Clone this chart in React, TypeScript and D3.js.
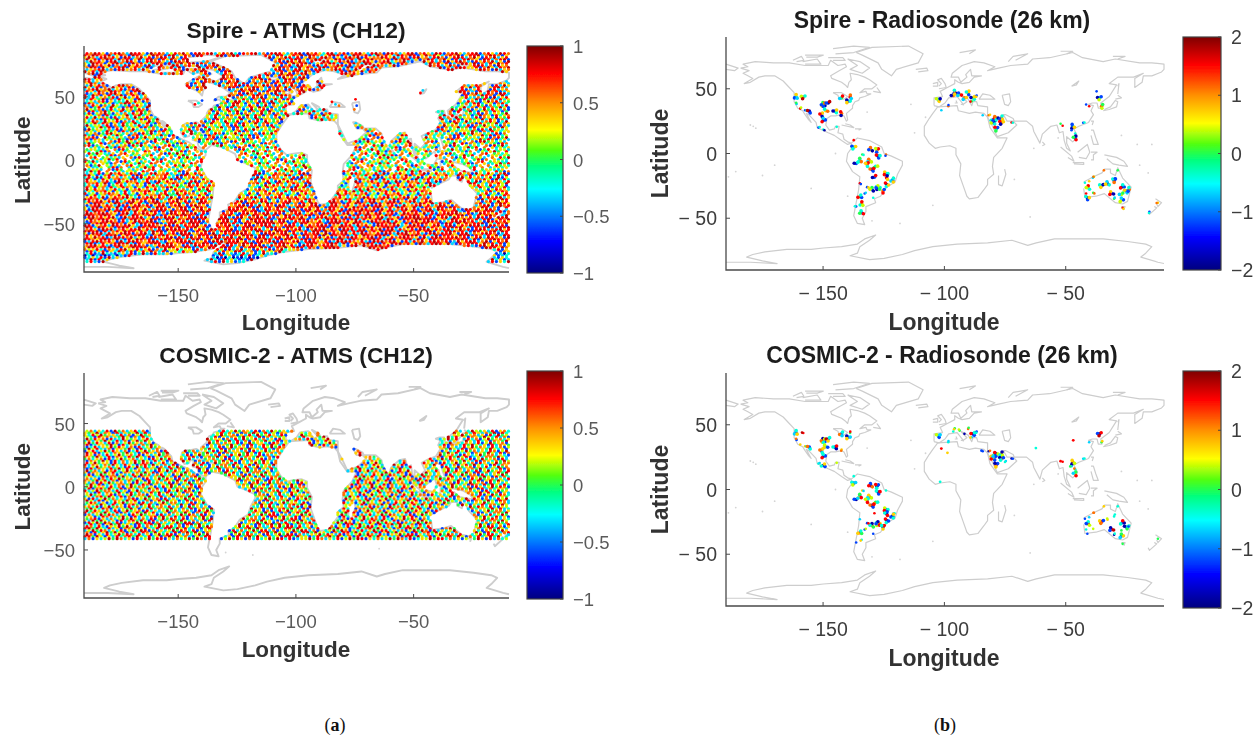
import React from "react";
import * as d3 from "d3";

// NOTE: the ATMS grid digits below are hand-estimated per latitude band from the picture
// (colour mix and white gaps); individual dots cannot be recovered exactly. . = empty cell.
const spireAtmsRows = [
"8798617897 2988619787 2587961897 8926879318 7892718986 2789197863 8927817896 2897198726 8917862981 7896278917 8629878978",
"7986928718 9672897168 9827961879 2689718697 2897861982 7968179829 6187928971 8692786198 7289167982 8169728971 6289791867",
"8971689278 1986972817 9836879127 9861789367 9218796827 1968972186 8792619878 1297861892 7986128978 6219879618 2798617982",
"6898271967 8928619786 9172896871 9268719827 8692178961 8279681927 8961782986 7192867981 9278619872 6918972861 9782697186",
"7862987196 8792869178 2698717962 8917289671 8926798172 9861782967 9182769881 7928961872 6987192678 9812678927 1896782961",
"8917268978 6192887196 2879618729 7168927986 1782969718 2867918279 6872198769 1827968172 9681792867 1982769871 2968178962",
"2789617286 9817962878 1692789168 7298617926 8197826971 8926781967 2891768921 7968127896 1827968719 2687981762 8971926878",
"7961828796 1278968172 9867219786 9172869718 2796871926 7819628971 8267917826 9817268971 2689781962 7892618796 1287968172",
"6871297863 9817268796 1829678172 9687126897 6218978261 9786812697 8192678918 2769871826 9718627986 1782968719 2687918276",
"7926817896 2187968127 8961782697 8126978916 2879618279 6817928671 9826178968 1279681728 9671826978 1268971826 7981627896",
"8167928618 7926178982 6179862817 9628719826 7981268718 9627861972 8617928761 8296178927 6819728671 9268178926 8719627861",
"5782936817 4628791563 8271946827 1596382748 1962857314 8726153984 2761958327 4819268375 1928367481 5926837148 6279381456",
"6287315978 2641879352 7816243958 6172839471 6825391748 2615983746 1829375618 4962871356 2897316452 7819264387 1562983741",
"3826147958 6273815946 2718365942 8157293648 7135926841 7362815947 2861739524 1786293546 1872394657 2816439752 8613927548",
"7152836497 2816357941 6827513946 8172439658 1726395847 2691873546 7812639457 1826735948 2716394852 7163829547 1283695748",
"2763815794 1627385946 7816239547 2861739546 2817635947 1728639458 2617839456 7162835947 8172639485 1628739564 2817365498",
"6281739456 2716835947 1862735946 8127365948 2716839547 6182739456 2817639548 7162839574 1826739458 6271839546 7182639547",
"1726839574 6218739456 2786139547 1628739568 1728365947 2816739456 7128639548 2617839547 1826739546 8172639547 2618739546",
"5362748156 3627184953 6271835947 2653817496 3718264953 6173825946 3271846957 6238174956 3172846593 5628173946 3827146597",
"3625817469 5362718456 3.27186453 6537182946 3625871946 5372816493 6257318465 3682714956 5261738496 3625714865 3.71846529",
"6352817.46 3625714896 5362718493 6253718.94 5362871469 3652718496 5.62378146 3625781496 5362871.49 3625714863 6253718496",
"3526.71846 5362178496 3652.71849 5263781496 3526718.46 5263178496 3526781.94 6352718496 5326.71849 3652781496 5263718.46",
"5263718.49 3562.78146 3625718.94 5362.71849 6352781.46 5326.78149 3652.71849 5263781.46 3526.71894 6352.78146 3562.71849",
"3652.7184. 5263.71849 3526.78146 .362571849 5263.78146 3652.7.849 5326.71846 3.62578149 5263.71846 3526.7.849 6352.78146",
"5326.7184. 3652.78.46 5263.7184. 3526.78.49 6352.7146. 3562.78.49 5263.7148. 3652.7.846 5326.7184. 3526.78.49 5362.7146.",
"3562.7.849 5326.78.46 .652.71849 5263.7.846 3526.78.49 6352.7.48. 5326.7184. .652.78.49 5263.7.846 3526.7184. 6352.78.46",
"3652.7184. 5263.7.849 3526.78.46 5362.7148. 3652.7.849 5263.78.46 3526.7184. 6352.7.849 5326.78.46 3652.7148. 5263.7.849",
"5263.78.49 3526.7146. 6352.7.849 5326.7184. 3652.78.46 5263.7.849 3526.7148. 6352.78.46 5326.7.849 3652.7184. 5263.78.46",
"3526.7184. 6352.78.49 5326.7.846 3652.7149. 5263.78.46 3526.7.849 6352.7184. 5326.78.46 3652.7.849 5263.7148. 3526.78.46",
"6352.7.849 5362.7184. 3652.78.46 5263.7.849 3526.7148. 6352.78.46 5326.7.849 3652.7184. 5263.78.46 3526.7.849 6352.7148.",
"7362857196 3862791584 7263815978 6387152896 7826319587 6372859178 2678913587 7362891578 6287315987 3768291578 6382791586",
"6783291578 7268315987 6738291587 7362819578 6287391586 7638291578 2786391587 6372819586 7268391578 6738291586 7263819587",
"7826391578 6278391587 7368291586 2768391578 7638291586 6278319587 7368219586 7263891578 6783291586 7268319587 6378291586",
"6372857146 8362751584 7263845978 6387152876 7826349587 6372859178 3678513587 7362851578 6287345987 3768251578 6382751586",
"7683451578 7268345987 6738251587 7362849578 6287351586 7638251578 3786351587 6372849586 7268351578 6738251586 7263849587",
"7826351578 6278351587 7368251586 3768351578 7638251586 6278349587 7368249586 7263851578 6783251586 7268349587 6378251586",
"8672517863 7852647986 3789647896 8371968789 6378971687 8926378968 7391687896 3178968729 6178926879 8617389678 9261789687",
"7896178396 8972638789 6819378968 1789367896 8172986789 6378916879 8361789678 3968178971 3869178962 7891678926 8971628796",
"8976178928 6789182968 7198267896 8917289678 6278918967 8129678968 2798617896 8278916978 6892178968 7291868978 1689278961",
"9878196827 8968178929 8768219878 6987182898 7619878928 1897869278 9861789287 9687182988 7968129878 6298718968 2798681987",
"8987618928 7986827198 6978928168 9878218968 7892981678 9268719878 2896187968 9278169878 6928178989 7681298768 9278168987",
"9788168929 8768298187 9892687189 7868921978 8926187989 2768198978 6892189687 9828176898 7961288978 6198287896 8927681989",
"8968912878 9768218987 8698219878 9286178968 9871268989 7826198878 6928918768 9871826987 8912678968 2989178768 9281687989",
"9878126989 8167829878 9621898768 9182878968 1987892868 9178982678 9821687898 1769882978 6198878926 8981768928 9168798921",
"8968728198 9878168929 8768912878 9826198687 8921798968 7198828968 7918928768 1989687892 6978189827 8968129878 6198927868",
"9187896829 8768198298 9678218978 8961892768 9871289878 6198928768 9817892968 2781989678 8192687989 8726198978 9682187896",
"8978168929 8761982898 6978129887 9268198768 9182897868 1987892968 7198278968 9821878968 1297898678 9182687898 7619289878",
"8968218978 9187689289 8768129898 7682198978 9618287968 9878129689 8279168798 9681289878 6192898768 9821678989 2768198978",
"9878126889 8961782898 6978218969 8716289878 9682189768 9871268989 7618298878 9681827968 8912878968 2198967889 7261898978",
"3561827968 5182793618 6281793567 1826397581 2683917568 2617839568 1723895618 2368175938 1628397568 3176289568 2681739568",
"3216381293 2136281392 1832613928 2316382916 2138261392 3128263912 2631839216 3821623918 1263891263 1203812031 0120301203",
"2316283912 1362813926 2136281392 3126381926 1326381926 1382163912 2136381926 1236281930 1201301021 0102010301 0201030120",
"3251361283 1632816392 2613821936 1236381926 2136281936 1326281936 1236381926 2631281936 1302010203 0102030102 0103020103",
];
// How far each typed Spire row is slid along the grid (hand-entered, one per row)
const spireRowOffsets = [0,37,71,14,93,52,8,66,29,105,43,81,17,59,96,3,74,31,88,46,12,63,99,25,78,6,54,87,35,69,21,92,48,1,76,33,58,15,84,41,107,27,65,9,98,50,19,73,38,86,4,61,23];

const cosmicAtmsRows = [
"5726381947 2683715946 6218375946 7162835947 6281739546 2716359486 7152836947 1627385946 2718635947 6172839546 2816739546",
"7263815947 6183729546 3718265946 7261839458 1726385946 6382715946 2768135948 6172835946 7162839458 6281735946 2718365948",
"6283715946 7361825948 6718239546 2683715948 7261835946 6172839458 3726185946 7281635949 6172835946 2736185946 7163825948",
"7162835947 2763815946 6318725946 7281635948 2671835946 7326185947 6281735946 3762815946 7136825948 6281735946 7261835946",
"3627185946 7162385947 6283715946 7138265948 6271835946 3716285947 7263815946 6172385948 7281635946 3671825946 7261385948",
"6271835946 7316285947 2687135946 7263185948 6371825946 7162385947 2638715946 7316825948 6271385946 7183625947 2763815946",
"7263185948 6172835946 7381625947 6273815946 2716385948 6381725946 7263185947 6128735946 7361825948 2671835946 7318625947",
"6183725946 7261385947 3627185946 7163825948 6273815946 7182635947 3671825946 7263185948 6172835946 7361825947 2681735946",
"7136825947 3672815946 7281635948 6172385946 7326185947 2683715946 7163825948 6271835946 3718625947 7261385946 6183725948",
"2671835946 7163825947 6381725946 7263185948 3617285946 7283615947 6173825946 7261385948 3672815946 7183625947 6271385946",
"7261385948 6183725946 7326185947 2671385946 7163825948 6273815946 7381625947 2617835946 7263185948 6372815946 7183625947",
"6372815946 7162385947 2783615946 7136285948 6271835946 3761825947 7283165946 6172385948 7361825946 2671835947 7183265946",
"3716285947 6273815946 7182635948 6371285946 7263815947 2617385946 7361825948 6183725946 7263185947 3672185946 7182635948",
"7283615946 3617825947 7263185946 6173825948 2781635946 7316285947 6271835946 7183625948 3627185946 7261835947 6381725946",
"6172385947 7263815946 3718625948 7162385946 6283715947 7361285946 2671835948 7183265946 6372815947 7261385946 3617825948",
"7361825946 6172835947 7283615946 2763185948 7136825946 6271385947 3782615946 7163285948 6273815946 7381265947 2617385946",
"2783615947 7162835946 6371825948 7263185946 3617285947 7183625946 6272815948 7361285946 2681735947 7163825946 6283715948",
"7163285946 6381725947 2671835946 7283165948 6172385946 7361825947 3627815946 7182635948 6273185946 7316825947 2761385946",
"6273815947 7183265946 3672815948 7261385946 6183725947 7326815946 2671385948 7163825946 6381275947 7283615946 3617285948",
"7382615946 2617835947 7163285946 6372815948 7261385946 3681725947 7163825946 6271835948 7382165946 2673815947 6183725946",
"7261835948 6372815946 7183625947 3672185946 7263815948 6171385946 7382615947 2683715946 7163285948 6271835946 7381625947",
"8162735948 7283615947 6173825948 7362815946 2783165948 7162835947 8361725948 7263185946 6182735948 7381625947 2671835948",
"7283165948 6172835949 7381265948 7263815947 8162735949 6273815948 7381625949 2671835947 7283165948 8162735949 6271835948",
"8172635948 7381265949 6172835947 8263715949 7163285948 6281735949 7381625948 8162735947 6273185949 7381265948 8172635949",
"7163825949 8271635948 7382165949 6182735948 8371625949 7263815948 6172385949 8283615947 7162835949 8361725948 6273815949",
"8271635949 7163825948 8362715949 7182635947 8263175949 6381725948 7263815949 8172635948 7381265949 6182735948 8271365949",
"7382615948 8162735949 6283715948 7361825949 8172365948 6281735949 7382165948 8163725949 7281635948 8361275949 7162835948",
"8163725949 7281365948 8372615949 6182735948 8271635949 7361825948 8162735949 7283615948 6172835949 8381265948 7263815949",
];
const cosmicRowOffsets = [0,43,17,86,31,72,9,58,95,24,67,3,49,81,36,14,76,52,28,91,7,63,38,84,19,55,99,41];

// Hand-read coastlines, [longitude, latitude] in degrees
const northAmerica = [[-168,66],[-162,67],[-166,69],[-156,71],[-141,70],[-128,70],[-115,68],[-108,68],[-96,68],[-94,72],[-88,68],[-82,69],[-81,67],[-87,64],[-94,60],[-93,58],[-85,55],[-82,53],[-80,51],[-79,55],[-77,57],[-78,62],[-72,61],[-66,59],[-62,57],[-56,53],[-60,50],[-66,50],[-70,47],[-65,48],[-64,46],[-61,46],[-66,44],[-70,43],[-71,41],[-74,40],[-76,37],[-76,35],[-81,31],[-80,26],[-81,25],[-83,29],[-85,30],[-90,29],[-94,29],[-97,27],[-98,22],[-95,18],[-91,19],[-90,21],[-87,21],[-88,16],[-84,15],[-83,11],[-80,9],[-77,8],[-80,7],[-85,10],[-91,14],[-96,16],[-105,20],[-106,24],[-112,30],[-114,31],[-110,24],[-112,26],[-115,30],[-117,33],[-121,35],[-124,40],[-124,47],[-128,51],[-133,56],[-140,60],[-148,60],[-153,59],[-160,55],[-165,54],[-158,58],[-162,60],[-166,62],[-161,64],[-168,66]];
const southAmerica = [[-77,8],[-72,12],[-62,10],[-52,5],[-50,0],[-44,-2],[-35,-6],[-35,-9],[-39,-16],[-41,-22],[-48,-26],[-53,-33],[-58,-35],[-57,-38],[-65,-41],[-65,-45],[-68,-50],[-66,-55],[-72,-54],[-75,-48],[-73,-38],[-71,-28],[-70,-18],[-76,-14],[-81,-6],[-80,0],[-77,4],[-77,8]];
const africa = [[-6,36],[10,37],[11,33],[20,31],[25,32],[32,31],[35,28],[37,20],[43,12],[51,12],[47,4],[40,-3],[39,-10],[40,-16],[35,-20],[35,-24],[32,-28],[27,-34],[20,-35],[18,-33],[15,-25],[12,-17],[13,-8],[9,-1],[9,4],[4,6],[-4,5],[-8,4],[-13,8],[-17,14],[-17,21],[-13,27],[-10,31],[-6,36]];
const eurasia = [[-9,37],[-9,43],[-2,44],[-4,48],[2,51],[8,54],[8,57],[11,55],[14,54],[20,55],[24,59],[30,60],[22,60],[21,65],[17,61],[18,59],[13,55],[11,59],[5,59],[6,62],[14,68],[24,71],[32,70],[41,67],[35,64],[44,66],[54,68],[68,69],[72,73],[86,74],[105,78],[113,74],[130,71],[140,73],[160,70],[170,70],[180,69],[180,65],[178,63],[170,60],[163,60],[162,55],[156,51],[156,58],[163,62],[155,59],[142,59],[135,54],[141,53],[135,44],[128,39],[129,35],[126,35],[125,39],[121,39],[118,38],[122,37],[120,33],[122,30],[118,24],[110,21],[106,19],[109,13],[105,9],[100,13],[100,8],[103,2],[100,4],[98,10],[97,17],[94,16],[92,22],[87,21],[80,15],[78,8],[73,17],[72,21],[67,25],[57,25],[56,27],[50,30],[48,30],[51,25],[56,25],[59,22],[52,16],[43,13],[39,21],[35,28],[35,36],[27,37],[26,40],[23,40],[22,37],[19,42],[13,45],[18,40],[15,38],[10,44],[3,43],[0,39],[-5,36],[-9,37]];
const chukotka = [[-180,69],[-170,66],[-173,64],[-180,65]];
const greenland = [[-73,78],[-60,82],[-30,83],[-18,77],[-22,70],[-40,65],[-44,60],[-52,65],[-55,70],[-68,76],[-73,78]];
const arcticIslands = [
  [[-80,73],[-70,71],[-62,66],[-68,62],[-78,65],[-72,68],[-80,73]],
  [[-117,71],[-105,73],[-102,69],[-115,69]],
  [[-90,77],[-75,78],[-62,82],[-75,83],[-92,81]],
  [[-125,72],[-118,75],[-116,72],[-122,71]],
  [[-115,76],[-100,76],[-105,74.5],[-114,74.5]],
  [[-96,74],[-84,74],[-82,72],[-92,72]],
  [[12,78],[25,80],[20,77]],
  [[52,71],[56,75],[68,77],[58,72]],
  [[95,79],[105,79],[100,77]],
  [[138,75],[148,75],[142,73]],
];
const otherIslands = [
  [[-24,65],[-15,66],[-14,64],[-22,63]],
  [[-5,50],[1,51],[0,54],[-3,58],[-6,57],[-3,54],[-5,52]],
  [[-10,52],[-6,52],[-6,55],[-10,54]],
  [[-59,48],[-53,47],[-56,51]],
  [[-85,22],[-75,20],[-78,22],[-82,23]],
  [[-74,19],[-69,19],[-71,18]],
  [[49,-12],[50,-16],[47,-25],[44,-24],[44,-17]],
  [[130,33],[135,34],[141,36],[142,40],[140,41],[136,36],[131,34]],
  [[140,42],[145,43],[142,45]],
  [[142,46],[143,54],[142,52]],
  [[120,18],[122,18],[124,12],[126,7],[122,7],[120,14]],
  [[109,1],[117,7],[119,1],[116,-4],[110,-3]],
  [[95,5],[104,-2],[106,-6],[101,-3]],
  [[105,-7],[114,-7],[114,-8.5],[106,-8]],
  [[120,1],[125,1],[122,-1],[122,-5],[120,-5]],
  [[131,-1],[141,-3],[147,-6],[150,-10],[143,-9],[138,-8],[133,-4]],
  [[145,-41],[148,-41],[147,-43.5]],
  [[173,-35],[178,-38],[175,-41],[174,-39]],
  [[172,-41],[174,-42],[168,-47],[167,-45]],
  [[80,9],[82,7],[80,6]],
  [[120,25],[122,25],[121,22]],
  [[9,41],[10,39],[8,39]],
  [[13,38],[15,38],[15,37]],
];
const australia = [[114,-22],[122,-18],[129,-15],[131,-12],[136,-12],[136,-15],[140,-17],[142,-11],[146,-19],[153,-26],[150,-37],[146,-39],[140,-38],[136,-35],[131,-31],[124,-33],[115,-34],[114,-27]];
const inlandSeas = [
  [[47,45],[53,46],[54,40],[52,37],[49,38],[47,45]],
  [[28,42],[31,46],[37,45],[41,42],[35,42],[28,42]],
  [[104,52],[110,56],[108,53],[104,52]],
  [[-92,47],[-85,47],[-80,44],[-83,42],[-87,42],[-88,45],[-92,47]],
];
const antarcticaCoast = [[-180,-84],[-160,-84],[-138,-85],[-150,-83],[-163,-80],[-158,-78],[-148,-76],[-130,-74],[-110,-74],[-100,-73],[-85,-72],[-72,-70],[-66,-66],[-57,-63],[-62,-67],[-70,-72],[-72,-77],[-78,-79],[-62,-82],[-50,-81],[-35,-78],[-25,-75],[-10,-72],[10,-70],[35,-69],[55,-67],[68,-71],[75,-69],[90,-66],[110,-66],[130,-66],[150,-68],[165,-70],[170,-72],[165,-77],[161,-80],[175,-84],[180,-85]];
const southPoleCorners = [[180,-90],[-180,-90]];
const tinyIslands = [[-157.6,21],[-155.5,19.6],[-160,22],[-172,-14],[-150,-17],[-140,-9],[-178,-18],[167,-15],[160,-9],[158,7],[145,14],[170,7],[-25,16],[-16,28],[-28,38],[-37,-54],[-60,-52],[-10,-40],[70,-49],[57,-20],[73,4],[93,12],[-90,0],[-110,-27],[-80,-33],[-64,32]];

// Values over inland water in the Spire ATMS panel: [longitude, latitude, digit]
const inlandSpireDots = [[30,46,8],[33,44,2],[36,43,7],[50,48,8],[51,43,1],[49,40,7],[107,55,2],[105,53,8],[-80,47,1],[-86,44,8],[-83,45,3]];

// Radiosonde stations: [longitude, latitude, Spire digits, COSMIC-2 digits]
const northAmericaStations = [
  [-122.5,44,"3162","1236"],[-116.5,43.7,"7539","89"],[-122,38.3,"24","17"],[-119,34.7,"85","6"],[-115,33.4,"13","63"],[-111.5,32.7,"019","137"],
  [-100,37.8,"5640171","2601753"],[-96,39,"019","1936"],[-98,33,"637","2516"],[-101.4,29.8,"1608","1637"],[-100,25.7,"0182","0183"],[-90.4,32.7,"1306","1038"],
  [-85,30.9,"708","67"],[-85,43,"428","1732"],[-79.5,40.4,"1036","1026"],[-78,43.7,"872","48"],[-104,20,"13","32"],[-100,18.5,"30","0136"],[-89,20.6,"3","5"],
];
const southAmericaStations = [
  [-75,10.3,"8","3"],[-75,4.9,"2163","1325"],[-61,3,"6701","0178"],[-56,2.6,"6815","0138"],[-68,-0.8,"43","62"],[-55,-2,"0183","0138"],[-70,-5.2,"2347","1548"],[-73,-7.7,"103","012"],
  [-62,-5.9,"6752","7652"],[-64,-8.5,"7836","7385"],[-57,-9.8,"354","437"],[-60,-12.3,"0178","0178"],[-48.5,-0.8,"71","3"],[-58,-18.3,"108","8"],[-48.5,-15.4,"2638","1538"],[-48,-18.7,"806","0183"],[-42.5,-18.7,"4","13"],
  [-70,-23,"81","2"],[-48,-24,"0386","0381"],[-43,-20.6,"1236","0163"],[-55,-26.5,"6230541","7365081"],[-60,-27.8,"1405","7043"],[-66,-30.9,"12","15"],[-70,-33.4,"4183","8463"],[-59,-34.2,"3","1"],[-68.5,-38.8,"7385","36"],[-73,-41,"13","1"],[-68.5,-45.8,"1384",""],
  [-51,-29,"718","0863"],[-64,-26,"16","18"],
];
const europeStations = [
  [-5.5,41.7,"3650","3152"],[8,47.3,"8130","46"],[6.8,44.8,"706","3"],[12,45.5,"5182","45"],[19,46.8,"6613","74"],[16,43,"762","0"],[23,43,"5306","0183"],[26,44.8,"16","13"],[22,40.4,"48","26"],[-3,33.4,"2",""],[2.7,36.5,"71","32"],
];
const middleEastStations = [
  [36,29.5,"76","07"],[39.6,26,"1038","7163"],[42,27.5,"6370","0185"],[46.5,27.5,"7136","6305"],[46.5,24,"7860","7013"],[39.6,23.7,"0135","6218"],[42,19,"3148","8160"],[54.7,24,"83","01"],[31,29.5,"2","1"],[50,22,"","23"],
];
const asiaStations = [
  [127,43,"3015","0189"],[124.6,48,"1",""],[128.7,36.5,"745","46"],[116,37.8,"1",""],[118.5,36.5,"8","2"],[105,21,"3016","7065"],[104,18,"1","24"],[107,15.4,"3","37"],[107,12,"1084","6482"],[113.6,23.7,"13","23"],[96.7,21.4,"8","8"],[95,23,"4",""],
];
const australiaStations = [
  [118.5,-21.4,"6","2"],[115,-22.6,"3","1"],[117.7,-26.5,"6835","8351"],[116,-30.9,"8","3"],[121.8,-30.4,"47","5"],[117,-34.2,"0136","1"],[122.4,-18,"52","7"],[128.7,-24.7,"1306","8617"],[133.6,-23.4,"0236","65"],[139,-20.8,"0173","3"],
  [145.7,-25.7,"0183","1038"],[149,-29,"1265","1403"],[151.4,-27.8,"713","31"],[145,-31.6,"524","4"],[137,-30.9,"1608","8091"],[139,-35,"42","03"],[145,-36,"6152","1624"],[146,-42,"86","4"],[168,-45,"13",""],[175,-38,"67","4"],[130.6,-13,"7","6"],[142,-13,"4","3"],[122,-18,"7","7"],[139.6,-19.3,"1","3"],
];
// Extra lone COSMIC-2 soundings: [longitude, latitude, digit]
const cosmicLoneDots = [[-3,31.6,8],[2,28.3,6],[105.4,38,8],[74.7,32,3],[95,21.9,8],[-4,5.9,3],[30,30,1]];

const xTicks = [-150, -100, -50];
const yTicks = [50, 0, -50];
const cbTicksA = [1, 0.5, 0, -0.5, -1];
const cbTicksB = [2, 1, 0, -1, -2];

const colorStops: [number, string][] = [[0,"#00007f"],[0.14,"#0000ff"],[0.37,"#00ffff"],[0.47,"#00ff80"],[0.54,"#50ff10"],[0.63,"#ffff00"],[0.75,"#ff9000"],[0.88,"#ff0000"],[1,"#7f0000"]];
const colorAt = d3.scaleLinear<string>().domain(colorStops.map((s) => s[0])).range(colorStops.map((s) => s[1])).clamp(true);
// Position on the colour bar for each digit used in the typed rows
const digitUnits = [0.05, 0.2, 0.33, 0.4, 0.5, 0.6, 0.68, 0.78, 0.88, 0.94];

const closedLand = [northAmerica, southAmerica, africa, eurasia, chukotka, greenland, australia, ...arcticIslands, ...otherIslands, [...antarcticaCoast, ...southPoleCorners]];
const outlines = [northAmerica, southAmerica, africa, eurasia, chukotka, greenland, australia, ...arcticIslands, ...otherIslands, ...inlandSeas, antarcticaCoast];
const isLand = (lon: number, lat: number) => closedLand.some((p) => d3.polygonContains(p as [number, number][], [lon, lat]));

const GRID_COLS = 106, LON_STEP = 3.4, LAT_STEP = 3.15;
const gridPoints = (rows: string[], offsets: number[], latStart: number) => {
  const out: { lon: number; lat: number; d: number }[] = [];
  const place = (row: string, lat: number, lonShift: number, off: number) => {
    d3.range(GRID_COLS).forEach((j) => {
      const c = row[(j + off) % row.length];
      if (c === ".") return;
      const lon = -180 + LON_STEP * (j + lonShift);
      if (lon > 180 || isLand(lon, lat)) return;
      out.push({ lon, lat, d: +c });
    });
  };
  rows.forEach((raw, i) => {
    const row = raw.replace(/ /g, "");
    const lat = latStart - i * LAT_STEP;
    place(row, lat, i % 2 ? 0.25 : 0.75, offsets[i]);
    if (i < rows.length - 1) place(row.split("").reverse().join(""), lat - LAT_STEP / 2, i % 2 ? 0.75 : 0.25, offsets[i]);
  });
  return out;
};
const spireGrid = gridPoints(spireAtmsRows, spireRowOffsets, 84);
const cosmicGrid = gridPoints(cosmicAtmsRows, cosmicRowOffsets, 44);
const allStations = [...northAmericaStations, ...southAmericaStations, ...europeStations, ...middleEastStations, ...asiaStations, ...australiaStations] as [number, number, string, string][];

const FONT = "'Liberation Sans', Arial, sans-serif";

function Panel(p: any) {
  const x = d3.scaleLinear().domain([-190, -9.5]).range([p.x0, p.x1]);
  const mapX = d3.scaleLinear().domain([-180, 180]).range([p.x0, p.x1]);
  const y = d3.scaleLinear().domain([90, p.latMin]).range([p.yTop, p.yBot]);
  const line = d3.line<number[]>().x((d) => mapX(d[0])).y((d) => y(d[1]));
  const cb = d3.scaleLinear().domain([-p.clim, p.clim]).range([p.cbBot, p.cbTop]);
  const fmt = (v: number, gap: boolean) => (v < 0 ? `\u2212${gap ? " " : ""}${Math.abs(v)}` : String(v));
  const gradId = `cb-${p.id}`;
  return (
    <g filter={`url(#${p.blur})`} fontFamily={FONT}>
      <linearGradient id={gradId} x1="0" x2="0" y1="1" y2="0">
        {colorStops.map((s) => <stop key={s[0]} offset={s[0]} stopColor={s[1]} />)}
      </linearGradient>
      <g fill="none" stroke="#cdcdcd" strokeWidth={p.coastWidth} strokeLinejoin="round">
        {outlines.map((o, i) => <path key={i} d={line(o as number[][]) || ""} />)}
      </g>
      {tinyIslands.map((t, i) => <circle key={i} cx={mapX(t[0])} cy={y(t[1])} r={0.9} fill="#d4d4d4" />)}
      {p.grid && p.grid.map((g: any, i: number) => (
        <circle key={i} cx={mapX(g.lon)} cy={y(g.lat)} r={1.6} fill={colorAt(digitUnits[g.d])} />
      ))}
      {p.lone && p.lone.map((g: number[], i: number) => (
        <circle key={i} cx={mapX(g[0])} cy={y(g[1])} r={1.4} fill={colorAt(digitUnits[g[2]])} />
      ))}
      {p.stationIndex !== undefined && allStations.map((s, i) => {
        const vals = s[p.stationIndex] as string;
        return vals.split("").map((c, k) => {
          const big = vals.length >= 3;
          const ang = k * 2.4 + i;
          const off = k === 0 ? 0 : (big ? 2.0 : 1.3);
          return <circle key={`${i}-${k}`} cx={mapX(s[0]) + off * Math.cos(ang)} cy={y(s[1]) + off * Math.sin(ang)} r={big ? 1.8 : 1.3} fill={colorAt(digitUnits[+c])} />;
        });
      })}
      <path d={`M${p.x0},${p.yTop}V${p.yBot}H${p.x1}`} fill="none" stroke="#4a4a4a" strokeWidth={1.3} />
      {xTicks.map((t) => (
        <g key={t}>
          <line x1={x(t)} x2={x(t)} y1={p.yBot} y2={p.yBot - 4} stroke="#4a4a4a" />
          <text x={x(t)} y={p.yBot + p.tickDy} textAnchor="middle" fontSize={p.tickSize} fill={p.tickColor}>{fmt(t, p.gap)}</text>
        </g>
      ))}
      {yTicks.map((t) => (
        <g key={t}>
          <line x1={p.x0} x2={p.x0 + 4} y1={y(t)} y2={y(t)} stroke="#4a4a4a" />
          <text x={p.x0 - 9} y={y(t) + 7} textAnchor="end" fontSize={p.tickSize} fill={p.tickColor}>{fmt(t, p.gap)}</text>
        </g>
      ))}
      <text x={p.titleX} y={p.titleY} textAnchor="middle" fontSize={p.titleSize} fontWeight="bold" fill="#1a1a1a">{p.title}</text>
      <text x={p.xLabelX} y={p.xLabelY} textAnchor="middle" fontSize={p.labelSize} fontWeight="bold" fill="#333">Longitude</text>
      <text transform={`translate(${p.yLabelX},${y(0)}) rotate(-90)`} textAnchor="middle" fontSize={p.labelSize} fontWeight="bold" fill="#333">Latitude</text>
      <rect x={p.cbX} y={p.cbTop} width={p.cbW} height={p.cbBot - p.cbTop} fill={`url(#${gradId})`} stroke="#444" strokeWidth={1.2} />
      {p.cbTicks.map((t: number) => (
        <g key={t}>
          <line x1={p.cbX + p.cbW - 3} x2={p.cbX + p.cbW} y1={cb(t)} y2={cb(t)} stroke="#444" />
          <text x={p.cbX + p.cbW + 10} y={cb(t) + 7} fontSize={p.tickSize} fill={p.tickColor}>{fmt(t, false)}</text>
        </g>
      ))}
    </g>
  );
}

const sideA = { x0: 84, x1: 509, latMin: -88, coastWidth: 1.9, blur: "blurA", gap: false, tickSize: 18.5, tickColor: "#5a5a5a", tickDy: 30, titleSize: 22.8, labelSize: 22.5, xLabelX: 296, yLabelX: 30, cbX: 527, cbW: 36, cbTicks: cbTicksA, clim: 1, titleX: 296 };
const sideB = { x0: 726, x1: 1164, latMin: -90, coastWidth: 1.2, blur: "blurB", gap: true, tickSize: 19.5, tickColor: "#3c3c3c", tickDy: 30, titleSize: 23, labelSize: 23, xLabelX: 944, yLabelX: 668, cbX: 1183, cbW: 38, cbTicks: cbTicksB, clim: 2, titleX: 942 };

export default function App() {
  return (
    <svg width={1257} height={740} style={{ position: "absolute", left: 0, top: 0, display: "block", background: "#fff" }}>
      <defs>
        <filter id="blurA" x="-2%" y="-2%" width="104%" height="104%"><feGaussianBlur stdDeviation="0.55" /></filter>
        <filter id="blurB" x="-2%" y="-2%" width="104%" height="104%"><feGaussianBlur stdDeviation="0.3" /></filter>
      </defs>
      <Panel {...sideA} id="a1" title="Spire - ATMS (CH12)" yTop={46} yBot={272} cbTop={46} cbBot={273} titleY={38} xLabelY={330} grid={spireGrid} lone={inlandSpireDots} />
      <Panel {...sideA} id="a2" title="COSMIC-2 - ATMS (CH12)" yTop={373} yBot={598} cbTop={371} cbBot={599} titleY={363} xLabelY={657} grid={cosmicGrid} />
      <Panel {...sideB} id="b1" title="Spire - Radiosonde (26 km)" yTop={37} yBot={270} cbTop={37} cbBot={270} titleY={28} xLabelY={330} stationIndex={2} />
      <Panel {...sideB} id="b2" title="COSMIC-2 - Radiosonde (26 km)" yTop={373} yBot={606} cbTop={371} cbBot={608} titleY={363} xLabelY={666} stationIndex={3} lone={cosmicLoneDots} />
      <text x={335} y={731} textAnchor="middle" fontFamily="'Liberation Serif', serif" fontSize={18} fill="#111">(<tspan fontWeight="bold">a</tspan>)</text>
      <text x={945} y={731} textAnchor="middle" fontFamily="'Liberation Serif', serif" fontSize={18} fill="#111">(<tspan fontWeight="bold">b</tspan>)</text>
    </svg>
  );
}
